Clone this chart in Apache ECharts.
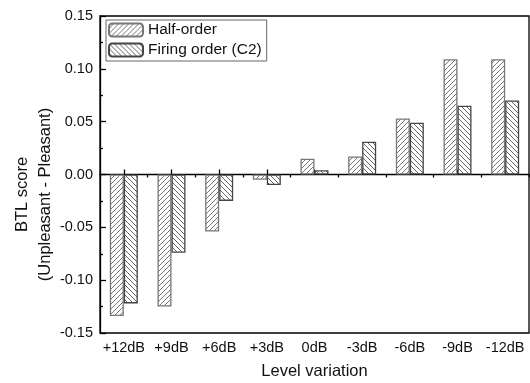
<!DOCTYPE html>
<html>
<head>
<meta charset="utf-8">
<script src="https://cdn.jsdelivr.net/npm/echarts@6/dist/echarts.min.js"></script>
<style>html,body{margin:0;padding:0;background:#fff}#c{width:530px;height:383px}</style>
</head>
<body>
<div id="c"></div>
<script>
const categories = ['+12dB', '+9dB', '+6dB', '+3dB', '0dB', '-3dB', '-6dB', '-9dB', '-12dB'];
const halfOrder = [-0.134, -0.125, -0.054, -0.005, 0.015, 0.017, 0.053, 0.109, 0.109];
const firingOrder = [-0.122, -0.074, -0.025, -0.010, 0.004, 0.031, 0.049, 0.065, 0.070];
const yTicks = { min: -0.15, max: 0.15, interval: 0.05 };

function hatch(dir, color) {
  const s = 5;
  const c = document.createElement('canvas');
  c.width = s; c.height = s;
  const g = c.getContext('2d');
  g.fillStyle = '#fff'; g.fillRect(0, 0, s, s);
  g.strokeStyle = color; g.lineWidth = 0.9;
  g.beginPath();
  if (dir > 0) {
    g.moveTo(-1, s + 1); g.lineTo(s + 1, -1);
    g.moveTo(-1, 1); g.lineTo(1, -1);
    g.moveTo(s - 1, s + 1); g.lineTo(s + 1, s - 1);
  } else {
    g.moveTo(-1, -1); g.lineTo(s + 1, s + 1);
    g.moveTo(-1, s - 1); g.lineTo(1, s + 1);
    g.moveTo(s - 1, -1); g.lineTo(s + 1, 1);
  }
  g.stroke();
  return c;
}

const chart = echarts.init(document.getElementById('c'), null, { renderer: 'canvas' });
const font = 'Arial, "Liberation Sans", sans-serif';
chart.setOption({
  animation: false,
  textStyle: { fontFamily: font },
  grid: { left: 100, right: 1, top: 16, bottom: 50, containLabel: false, outerBoundsMode: 'none', show: true, borderColor: '#000', borderWidth: 1.3, backgroundColor: 'transparent' },
  legend: {
    orient: 'vertical', left: 106, top: 20,
    padding: [2, 5, 3, 2], itemGap: 4, itemWidth: 34, itemHeight: 13,
    borderColor: '#666', borderWidth: 1,
    textStyle: { fontSize: 15.5, color: '#111', fontFamily: font, lineHeight: 14 },
    data: ['Half-order', 'Firing order (C2)']
  },
  xAxis: [
    {
      type: 'category', data: categories, position: 'bottom',
      axisLine: { onZero: true, onZeroAxisIndex: 0, lineStyle: { color: '#000', width: 1.3 } },
      axisTick: { show: true, alignWithLabel: true, inside: true, length: 5, lineStyle: { color: '#000', width: 1.3 } },
      axisLabel: { show: false }, splitLine: { show: false }
    },
    {
      type: 'category', data: categories, position: 'bottom',
      axisLine: { show: false, onZero: false },
      axisTick: { show: false },
      axisLabel: { show: true, fontSize: 14.5, color: '#111', margin: 7, interval: 0 },
      name: 'Level variation', nameLocation: 'middle', nameGap: 30, nameMoveOverlap: false,
      nameTextStyle: { fontSize: 16.5, color: '#111' },
      splitLine: { show: false }
    },
    {
      type: 'category', data: categories, position: 'bottom',
      axisLine: { show: false, onZero: true, onZeroAxisIndex: 0 },
      axisTick: { show: true, alignWithLabel: false, inside: false, length: 3, lineStyle: { color: '#000', width: 1.3 } },
      axisLabel: { show: false }, splitLine: { show: false }
    }
  ],
  yAxis: {
    type: 'value', min: yTicks.min, max: yTicks.max, interval: yTicks.interval,
    axisLine: { show: true, onZero: false, lineStyle: { color: '#000', width: 1.3 } },
    axisTick: { show: true, inside: true, length: 6, lineStyle: { color: '#000', width: 1.3 } },
    minorTick: { show: true, splitNumber: 2, length: 3, lineStyle: { color: '#000', width: 1.3 } },
    axisLabel: { fontSize: 14.5, color: '#111', margin: 7, formatter: v => v.toFixed(2) },
    splitLine: { show: false },
    name: '{a|BTL score}\n{a|(Unpleasant - Pleasant)}',
    nameLocation: 'middle', nameRotate: 90, nameGap: 43, nameMoveOverlap: false,
    nameTextStyle: { fontSize: 16.5, color: '#111', lineHeight: 23, padding: [0, 40, 0, 0], rich: { a: { fontSize: 16.5, lineHeight: 23, color: '#111' } } }
  },
  series: [
    {
      name: 'Half-order', type: 'bar', xAxisIndex: 0, data: halfOrder, barWidth: 14, barGap: '0%',
      itemStyle: { color: { image: hatch(1, '#666'), repeat: 'repeat' }, borderColor: '#777', borderWidth: 1.3 }
    },
    {
      name: 'Firing order (C2)', type: 'bar', xAxisIndex: 0, data: firingOrder, barWidth: 14, barGap: '0%',
      itemStyle: { color: { image: hatch(-1, '#555'), repeat: 'repeat' }, borderColor: '#444', borderWidth: 1.3 }
    }
  ]
});
</script>
</body>
</html>
